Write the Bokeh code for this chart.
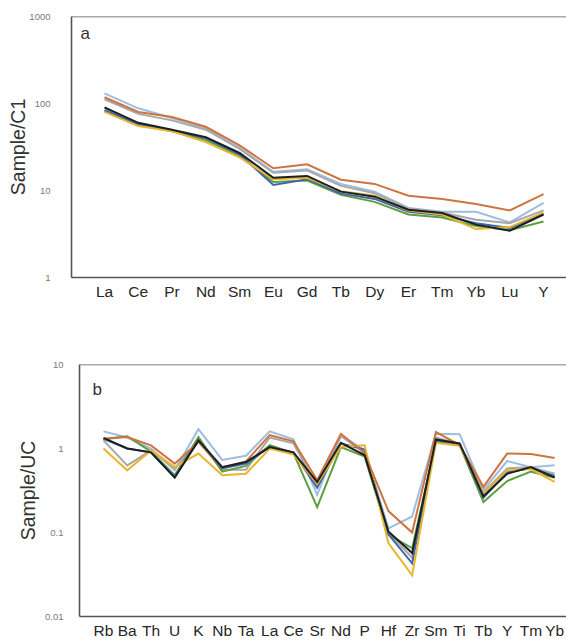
from bokeh.plotting import figure
from bokeh.layouts import column
from bokeh.models import FixedTicker, Span, Label
from bokeh.embed import file_html
from bokeh.resources import INLINE

# ---------------- data: panel a (chondrite-normalised REE) ----------------
ree_elements = ["La", "Ce", "Pr", "Nd", "Sm", "Eu", "Gd", "Tb", "Dy", "Er", "Tm", "Yb", "Lu", "Y"]
ree_lightblue = [131, 88, 68, 52, 31, 16.4, 17.5, 11.9, 9.7, 6.3, 5.7, 5.7, 4.3, 7.2]
ree_gray = [112, 76, 64, 50, 30, 16, 17, 11.3, 9.3, 6.2, 5.6, 4.6, 4.2, 5.9]
ree_green = [82, 57, 48, 38, 25, 12.5, 13, 8.9, 7.4, 5.3, 4.9, 3.9, 3.5, 4.4]
ree_darkblue = [84, 58, 49, 40, 26, 11.6, 13.5, 9.2, 8.0, 5.7, 5.2, 4.2, 3.7, 5.4]
ree_yellow = [80, 55, 48, 36, 24, 13.5, 14, 9.8, 8.7, 5.9, 5.3, 3.6, 3.8, 5.6]
ree_orange = [118, 80, 70, 54, 33, 18, 20, 13.3, 11.9, 8.7, 8.0, 7.0, 5.9, 9.1]
ree_black = [90, 60, 50, 41, 27, 14, 14.7, 9.7, 8.5, 6.0, 5.5, 4.05, 3.45, 5.3]

# ---------------- data: panel b (upper-crust-normalised traces) ----------------
trace_elements = ["Rb", "Ba", "Th", "U", "K", "Nb", "Ta", "La", "Ce", "Sr",
                  "Nd", "P", "Hf", "Zr", "Sm", "Ti", "Tb", "Y", "Tm", "Yb"]
tr_lightblue = [1.6, 1.35, 1.0, 0.55, 1.7, 0.73, 0.82, 1.6, 1.29, 0.28,
                1.45, 0.95, 0.112, 0.155, 1.5, 1.48, 0.32, 0.71, 0.6, 0.63]
tr_gray = [1.25, 0.63, 0.95, 0.58, 1.2, 0.56, 0.56, 1.35, 1.15, 0.36,
           1.4, 0.9, 0.1, 0.05, 1.35, 1.12, 0.3, 0.58, 0.6, 0.5]
tr_green = [1.3, 1.4, 0.92, 0.48, 1.37, 0.53, 0.62, 1.1, 0.88, 0.2,
            1.04, 0.8, 0.094, 0.065, 1.2, 1.1, 0.23, 0.41, 0.53, 0.45]
tr_darkblue = [1.3, 1.0, 0.9, 0.46, 1.25, 0.58, 0.66, 1.05, 0.9, 0.34,
               1.15, 0.97, 0.095, 0.043, 1.25, 1.13, 0.26, 0.52, 0.58, 0.47]
tr_yellow = [1.0, 0.55, 0.95, 0.6, 0.87, 0.48, 0.5, 1.0, 0.85, 0.38,
             1.05, 1.09, 0.075, 0.031, 1.17, 1.08, 0.29, 0.55, 0.57, 0.4]
tr_orange = [1.3, 1.37, 1.09, 0.66, 1.2, 0.6, 0.7, 1.44, 1.22, 0.42,
             1.5, 0.87, 0.18, 0.10, 1.57, 1.1, 0.35, 0.87, 0.86, 0.77]
tr_black = [1.34, 1.0, 0.9, 0.45, 1.25, 0.6, 0.69, 1.04, 0.9, 0.40,
            1.17, 0.83, 0.103, 0.057, 1.28, 1.15, 0.27, 0.5, 0.6, 0.45]

ree_series = [ree_lightblue, ree_gray, ree_green, ree_darkblue, ree_yellow, ree_orange, ree_black]
trace_series = [tr_lightblue, tr_gray, tr_green, tr_darkblue, tr_yellow, tr_orange, tr_black]
series_colors = ["#9fbde0", "#a8a8a8", "#5f9e3f", "#3d67a8", "#e8b52c", "#cf7440", "#1c1f24"]

a_yticks = [1, 10, 100, 1000]
b_yticks = [0.01, 0.1, 1, 10]

FONT = "Liberation Sans"
AXIS_COLOR = "#555555"


def make_panel(cats, series, ylo, yhi, yticks, ylabel, letter, letter_x, letter_y,
               x_lo, x_hi, height, left, top, bottom, tick_standoff, label_standoff):
    p = figure(width=566, height=height, y_axis_type="log",
               x_range=(x_lo, x_hi), y_range=(ylo, yhi),
               output_backend="svg", toolbar_location=None,
               min_border_left=left, min_border_right=0,
               min_border_top=top, min_border_bottom=bottom)
    p.frame_align = False
    p.outline_line_color = None
    p.xgrid.visible = False
    p.ygrid.visible = False
    p.background_fill_color = "white"
    p.border_fill_color = "white"

    xs = list(range(len(cats)))
    for vals, col in zip(series, series_colors):
        p.line(xs, vals, line_color=col, line_width=2.0, line_join="miter")

    # x axis
    xa = p.xaxis[0]
    xa.ticker = FixedTicker(ticks=xs)
    xa.major_label_overrides = {i: c for i, c in enumerate(cats)}
    xa.major_label_text_font = FONT
    xa.major_label_text_font_size = "15.5px"
    xa.major_label_text_color = "#262626"
    xa.major_label_standoff = 5
    xa.major_tick_out = 0
    xa.major_tick_in = 0
    xa.minor_tick_out = 0
    xa.major_tick_line_color = None
    xa.minor_tick_line_color = None
    xa.axis_line_color = AXIS_COLOR
    xa.axis_line_width = 1.6

    # y axis
    ya = p.yaxis[0]
    ya.ticker = FixedTicker(ticks=yticks)
    ya.major_label_overrides = {t: (str(t) if t >= 1 else f"{t:g}") for t in yticks}
    ya.major_label_text_font = FONT
    ya.major_label_text_font_size = "9.5px"
    ya.major_label_text_color = "#7a7a7a"
    ya.major_label_standoff = tick_standoff
    ya.major_tick_out = 0
    ya.major_tick_in = 0
    ya.minor_tick_out = 0
    ya.minor_tick_in = 0
    ya.major_tick_line_color = None
    ya.minor_tick_line_color = None
    ya.axis_line_color = AXIS_COLOR
    ya.axis_line_width = 1.6
    ya.axis_label = ylabel
    ya.axis_label_text_font = FONT
    ya.axis_label_text_font_size = "19.5px"
    ya.axis_label_text_font_style = "normal"
    ya.axis_label_text_color = "#333333"
    ya.axis_label_standoff = label_standoff

    # top border of the frame (the right border lies outside the view in the original)
    p.add_layout(Span(location=yhi, dimension="width", line_color=AXIS_COLOR, line_width=1.6))

    p.add_layout(Label(x=letter_x, y=letter_y, x_units="screen", y_units="data", text=letter,
                       text_font=FONT, text_font_size="17px", text_color="#333333",
                       text_baseline="middle"))
    return p


pa = make_panel(ree_elements, ree_series, 1, 1000, a_yticks, "Sample/C1",
                "a", 9, 640, -0.977, 13.68, 302, 71, 16, 24, 21, -3)
pb = make_panel(trace_elements, trace_series, 0.01, 10, b_yticks, "Sample/UC",
                "b", 13, 5.0, -1.01, 19.5, 339, 79, 62, 22, 16, 3)

layout = column(pa, pb, spacing=0)
open("out.html", "w").write(file_html(layout, INLINE))
